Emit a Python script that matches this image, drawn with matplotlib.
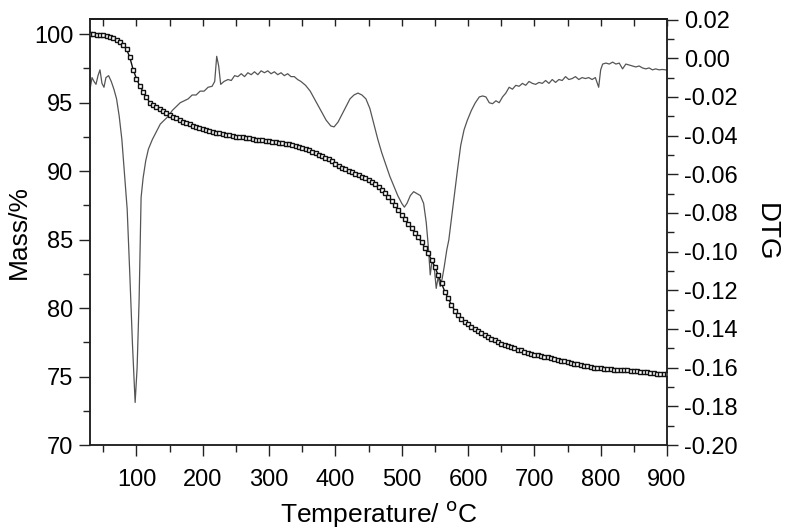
import numpy as np
import matplotlib
matplotlib.use('Agg')
import matplotlib.pyplot as plt
from matplotlib.ticker import MultipleLocator, FixedLocator

plt.rcParams['font.family'] = ['Liberation Sans', 'DejaVu Sans']

# TG curve (mass %), every 5 C from 30 to 900
tg_temp = list(range(30, 905, 5))
tg_mass = [100.0, 99.98, 99.95, 99.92, 99.9, 99.85, 99.8, 99.7, 99.6, 99.45,
           99.2, 98.9, 98.3, 97.4, 96.75, 96.2, 95.8, 95.4, 95.0, 94.85,
           94.7, 94.55, 94.4, 94.25, 94.1, 93.97, 93.85, 93.72, 93.6, 93.5,
           93.4, 93.3, 93.2, 93.12, 93.05, 92.97, 92.9, 92.85, 92.8, 92.75,
           92.7, 92.65, 92.6, 92.55, 92.5, 92.47, 92.45, 92.42, 92.4, 92.35,
           92.3, 92.27, 92.25, 92.22, 92.2, 92.15, 92.1, 92.07, 92.05, 92.0,
           91.95, 91.9, 91.85, 91.78, 91.7, 91.6, 91.5, 91.4, 91.3, 91.2,
           91.1, 90.98, 90.85, 90.7, 90.55, 90.4, 90.25, 90.12, 90.0, 89.9,
           89.8, 89.7, 89.6, 89.48, 89.35, 89.2, 89.05, 88.85, 88.65, 88.4,
           88.1, 87.8, 87.5, 87.15, 86.8, 86.48, 86.15, 85.82, 85.5, 85.15,
           84.8, 84.4, 84.0, 83.5, 83.0, 82.4, 81.8, 81.2, 80.7, 80.25,
           79.8, 79.5, 79.2, 79.0, 78.8, 78.62, 78.45, 78.3, 78.15, 78.02,
           77.9, 77.77, 77.65, 77.52, 77.4, 77.3, 77.2, 77.12, 77.05, 76.97,
           76.9, 76.82, 76.75, 76.67, 76.6, 76.55, 76.5, 76.45, 76.4, 76.35,
           76.3, 76.22, 76.15, 76.1, 76.05, 76.0, 75.95, 75.9, 75.85, 75.8,
           75.75, 75.7, 75.65, 75.62, 75.6, 75.57, 75.55, 75.52, 75.5, 75.5,
           75.5, 75.47, 75.45, 75.42, 75.4, 75.37, 75.35, 75.32, 75.3, 75.27,
           75.25, 75.22, 75.2, 75.17, 75.15]

# DTG curve
dtg_temp = [30, 33, 36, 39, 42, 45, 48, 51, 54, 58, 62, 66, 70, 74, 78, 82, 86, 90, 94, 98,
            101, 104, 107, 110, 114, 118, 124, 130, 136, 142, 148, 154, 160, 166, 172, 178,
            184, 190, 196, 202, 208, 214, 218, 221, 224, 227, 232, 238, 243, 248, 253, 258,
            263, 268, 273, 278, 283, 288, 293, 298, 303, 308, 313, 318, 323, 328, 333, 338,
            343, 348, 355, 362, 370, 378, 386, 393, 398, 404, 410, 416, 422, 428, 434, 440,
            446, 452, 458, 464, 470, 476, 482, 488, 494, 500, 504, 508, 513, 518, 523, 528,
            533, 537, 540, 543, 546, 549, 552, 555, 558, 561, 564, 568, 571, 575, 579, 584,
            589, 594, 599, 605, 611, 617, 622, 627, 632, 637, 642, 647, 652, 657, 662, 667,
            672, 677, 682, 687, 692, 697, 702, 707, 712, 717, 722, 727, 732, 737, 742, 747,
            752, 757, 762, 767, 772, 777, 782, 787, 792, 797, 800, 803, 808, 813, 818, 823,
            828, 833, 838, 843, 848, 853, 858, 863, 868, 873, 878, 883, 888, 893, 898, 900]
dtg_val = [-0.016, -0.010, -0.012, -0.0135, -0.009, -0.006, -0.013, -0.015, -0.010, -0.009,
           -0.012, -0.016, -0.021, -0.030, -0.042, -0.060, -0.078, -0.112, -0.148, -0.178,
           -0.160, -0.125, -0.072, -0.062, -0.053, -0.047, -0.042, -0.038, -0.034, -0.032,
           -0.030, -0.027, -0.025, -0.023, -0.022, -0.021, -0.019, -0.019, -0.017, -0.017,
           -0.015, -0.0145, -0.012, 0.001, -0.004, -0.0135, -0.012, -0.011, -0.0115, -0.009,
           -0.0095, -0.008, -0.0095, -0.0075, -0.0085, -0.007, -0.0085, -0.0065, -0.0075,
           -0.0065, -0.008, -0.007, -0.0085, -0.0075, -0.009, -0.008, -0.0095, -0.0095,
           -0.011, -0.012, -0.014, -0.017, -0.022, -0.027, -0.032, -0.035, -0.0355, -0.033,
           -0.029, -0.025, -0.021, -0.019, -0.018, -0.019, -0.021, -0.026, -0.034, -0.042,
           -0.049, -0.055, -0.061, -0.066, -0.071, -0.075, -0.077, -0.075, -0.071, -0.069,
           -0.070, -0.071, -0.075, -0.085, -0.097, -0.112, -0.104, -0.108, -0.119, -0.113,
           -0.118, -0.114, -0.108, -0.099, -0.094, -0.083, -0.072, -0.058, -0.045, -0.037,
           -0.032, -0.027, -0.023, -0.020, -0.0195, -0.020, -0.023, -0.0235, -0.022, -0.023,
           -0.020, -0.018, -0.015, -0.016, -0.014, -0.0145, -0.013, -0.014, -0.012, -0.013,
           -0.0135, -0.0125, -0.013, -0.0115, -0.013, -0.011, -0.0125, -0.011, -0.0115,
           -0.0095, -0.011, -0.0105, -0.0095, -0.011, -0.010, -0.0105, -0.010, -0.011, -0.010,
           -0.015, -0.006, -0.003, -0.0025, -0.003, -0.002, -0.003, -0.0025, -0.0055, -0.003,
           -0.0035, -0.004, -0.0045, -0.004, -0.005, -0.0055, -0.005, -0.006, -0.0055, -0.006,
           -0.0058, -0.006, -0.0062]

mass_ticks = [70, 75, 80, 85, 90, 95, 100]
dtg_ticks = [-0.20, -0.18, -0.16, -0.14, -0.12, -0.10, -0.08, -0.06, -0.04, -0.02, 0.00, 0.02]
dtg_labels = ['-0.20', '-0.18', '-0.16', '-0.14', '-0.12', '-0.10', '-0.08', '-0.06',
              '-0.04', '-0.02', '0.00', '0.02']

fig = plt.figure(figsize=(7.87, 5.32), dpi=100)
ax = fig.add_axes([0.1144, 0.1635, 0.7331, 0.8008])
ax2 = ax.twinx()

ax2.plot(dtg_temp, dtg_val, color='#555555', lw=0.9)
ax.plot(tg_temp, tg_mass, color='#111111', lw=1.0, marker='s', ms=3.5,
        mfc='white', mec='#111111', mew=1.0)

ax.set_zorder(ax2.get_zorder() + 1)
ax.patch.set_visible(False)

ax.set_xlim(30, 900)
ax.set_ylim(70, 101.1)
ax2.set_ylim(-0.20, 0.0203)

ax.xaxis.set_major_locator(MultipleLocator(100))
ax.xaxis.set_minor_locator(MultipleLocator(50))
ax.yaxis.set_major_locator(FixedLocator(mass_ticks))
ax.yaxis.set_minor_locator(MultipleLocator(2.5))
ax2.yaxis.set_major_locator(FixedLocator(dtg_ticks))
ax2.yaxis.set_minor_locator(MultipleLocator(0.01))
ax2.set_yticklabels(dtg_labels)

for a in (ax, ax2):
    for s in a.spines.values():
        s.set_linewidth(1.1)
        s.set_color('#222222')

ax.tick_params(axis='both', which='major', direction='out', length=8, width=1.0,
               labelsize=17, color='#222222', pad=4)
ax.tick_params(axis='both', which='minor', direction='out', length=5, width=1.0,
               color='#222222')
ax.tick_params(axis='x', top=False, pad=9)
ax2.tick_params(axis='y', which='major', direction='out', length=8, width=1.0,
                labelsize=17, color='#222222', pad=4)
ax2.tick_params(axis='y', which='minor', direction='out', length=5, width=1.0,
                color='#222222')

# top ticks point inward
top = ax.secondary_xaxis('top')
top.xaxis.set_major_locator(MultipleLocator(50))
top.tick_params(direction='in', length=5, width=1.0, labeltop=False, color='#222222')
top.spines['top'].set_linewidth(1.1)

ax.set_ylabel('Mass/%', fontsize=19, labelpad=2)
ax2.set_ylabel('DTG', fontsize=20, rotation=-90, labelpad=30)
ax.set_xlabel('Temperature/ $^{\\mathrm{o}}$C', fontsize=19, labelpad=6)

fig.savefig('out.png', dpi=100)
